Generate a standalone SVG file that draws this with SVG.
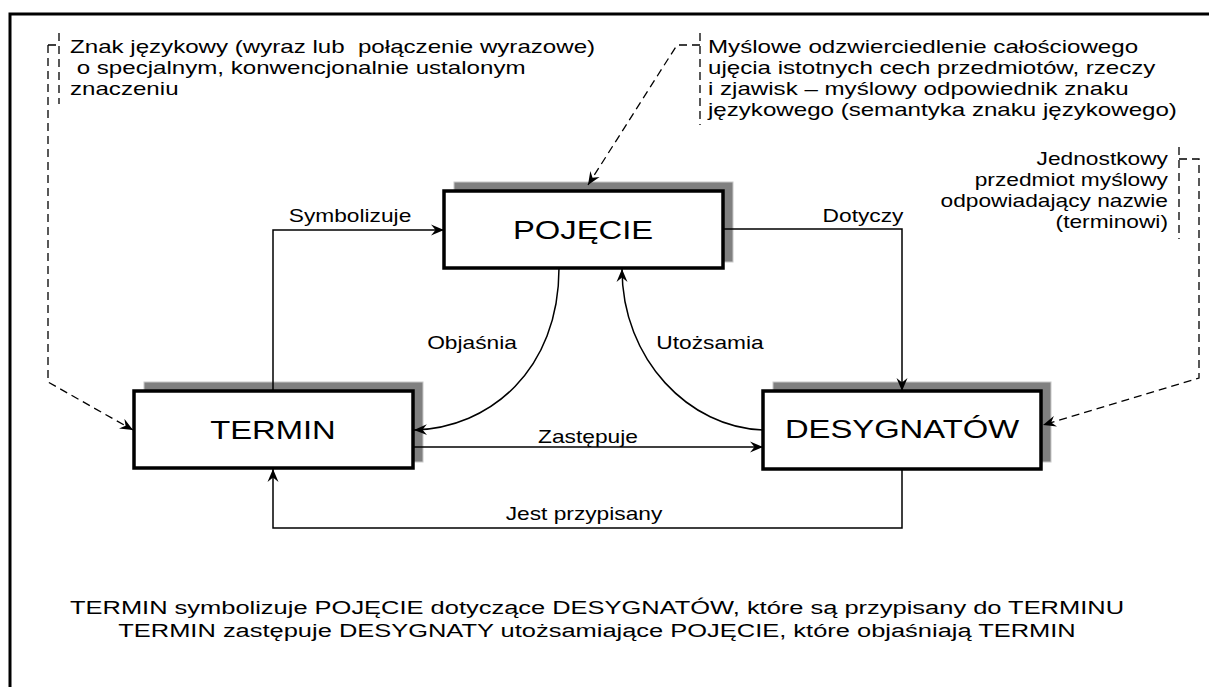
<svg xmlns="http://www.w3.org/2000/svg" width="1209" height="687" viewBox="0 0 1209 687">
<style>
.t{font-family:"Liberation Sans",Arial,sans-serif;fill:#000}
.lbl{font-size:17.5px}
.note{font-size:18px}
.big{font-size:25.6px}
.foot{font-size:19px}
.box{fill:#fff;stroke:#000;stroke-width:3.5}
.shadow{fill:#808080;stroke:#c8c8c8;stroke-width:1}
.conn{fill:none;stroke:#000;stroke-width:1.5}
.dash{fill:none;stroke:#000;stroke-width:1.3;stroke-dasharray:8 5}
</style>
<defs>
<marker id="arr" markerWidth="14" markerHeight="12" refX="13" refY="6" orient="auto" markerUnits="userSpaceOnUse">
<path d="M0,0.5 L13,6 L0,11.5 L4.5,6 Z" fill="#000"/>
</marker>
</defs>
<rect x="0" y="0" width="1209" height="687" fill="#fff"/>
<rect id="frame" x="10" y="14" width="1230" height="700" fill="none" stroke="#000" stroke-width="3"/>

<g id="node-pojecie">
<rect class="shadow" x="454" y="182" width="279" height="80"/>
<rect class="box" x="444" y="191" width="279" height="77"/>
<text class="t big" text-anchor="middle" transform="translate(583,239) scale(1.28,1)">POJĘCIE</text>
</g>
<g id="node-termin">
<rect class="shadow" x="144" y="382" width="279" height="80"/>
<rect class="box" x="134" y="391" width="279" height="77"/>
<text class="t big" text-anchor="middle" transform="translate(273,439) scale(1.28,1)">TERMIN</text>
</g>
<g id="node-desygnatow">
<rect class="shadow" x="773" y="382" width="278" height="80"/>
<rect class="box" x="763" y="391" width="278" height="78"/>
<text class="t big" text-anchor="middle" transform="translate(902,438) scale(1.28,1)">DESYGNATÓW</text>
</g>

<g id="note-termin">
<g transform="translate(70,0) scale(1.34,1)">
<text class="t note" x="0" y="53" xml:space="preserve">Znak językowy (wyraz lub  połączenie wyrazowe)</text>
<text class="t note" x="0" y="74" xml:space="preserve"> o specjalnym, konwencjonalnie ustalonym</text>
<text class="t note" x="0" y="95">znaczeniu</text>
</g>
</g>
<g id="note-pojecie">
<g transform="translate(708,0) scale(1.34,1)">
<text class="t note" x="0" y="53">Myślowe odzwierciedlenie całościowego</text>
<text class="t note" x="0" y="74">ujęcia istotnych cech przedmiotów, rzeczy</text>
<text class="t note" x="0" y="95">i zjawisk – myślowy odpowiednik znaku</text>
<text class="t note" x="0" y="116">językowego (semantyka znaku językowego)</text>
</g>
</g>
<g id="note-desygnat">
<g transform="translate(1168,0) scale(1.3,1)">
<text class="t lbl" x="0" y="165" text-anchor="end">Jednostkowy</text>
<text class="t lbl" x="0" y="186" text-anchor="end">przedmiot myślowy</text>
<text class="t lbl" x="0" y="207" text-anchor="end">odpowiadający nazwie</text>
<text class="t lbl" x="0" y="228" text-anchor="end">(terminowi)</text>
</g>
</g>

<g id="connectors">
<path class="conn" d="M273,391 V230 H444" marker-end="url(#arr)"/>
<path class="conn" d="M723,229 H902 V391" marker-end="url(#arr)"/>
<path class="conn" d="M559,268 C559,370 490,428 414,430" marker-end="url(#arr)"/>
<path class="conn" d="M763,430 C690,428 622,360 622,269" marker-end="url(#arr)"/>
<path class="conn" d="M413,447 H763" marker-end="url(#arr)"/>
<path class="conn" d="M902,469 V528 H273 V469" marker-end="url(#arr)"/>
<path class="dash" d="M48,45 V382 L133,430" marker-end="url(#arr)"/>
<path class="dash" d="M48,45 H59 M59,33 V104"/>
<path class="dash" d="M700,45 H677 L588,185" marker-end="url(#arr)"/>
<path class="dash" d="M700,33 V125"/>
<path class="dash" d="M1179,147 V239 M1179,159 H1199 V378 L1043,425" marker-end="url(#arr)"/>
<g transform="translate(350,222) scale(1.3,1)"><text class="t lbl" text-anchor="middle">Symbolizuje</text></g>
<g transform="translate(863,222) scale(1.3,1)"><text class="t lbl" text-anchor="middle">Dotyczy</text></g>
<g transform="translate(472,349) scale(1.3,1)"><text class="t lbl" text-anchor="middle">Objaśnia</text></g>
<g transform="translate(710,349) scale(1.3,1)"><text class="t lbl" text-anchor="middle">Utożsamia</text></g>
<g transform="translate(588,443) scale(1.3,1)"><text class="t lbl" text-anchor="middle">Zastępuje</text></g>
<g transform="translate(584,520) scale(1.3,1)"><text class="t lbl" text-anchor="middle">Jest przypisany</text></g>
</g>

<g id="caption">
<g transform="translate(597,614) scale(1.34,1)"><text class="t foot" text-anchor="middle">TERMIN symbolizuje POJĘCIE dotyczące DESYGNATÓW, które są przypisany do TERMINU</text></g>
<g transform="translate(597,637) scale(1.34,1)"><text class="t foot" text-anchor="middle">TERMIN zastępuje DESYGNATY utożsamiające POJĘCIE, które objaśniają TERMIN</text></g>
</g>
</svg>
